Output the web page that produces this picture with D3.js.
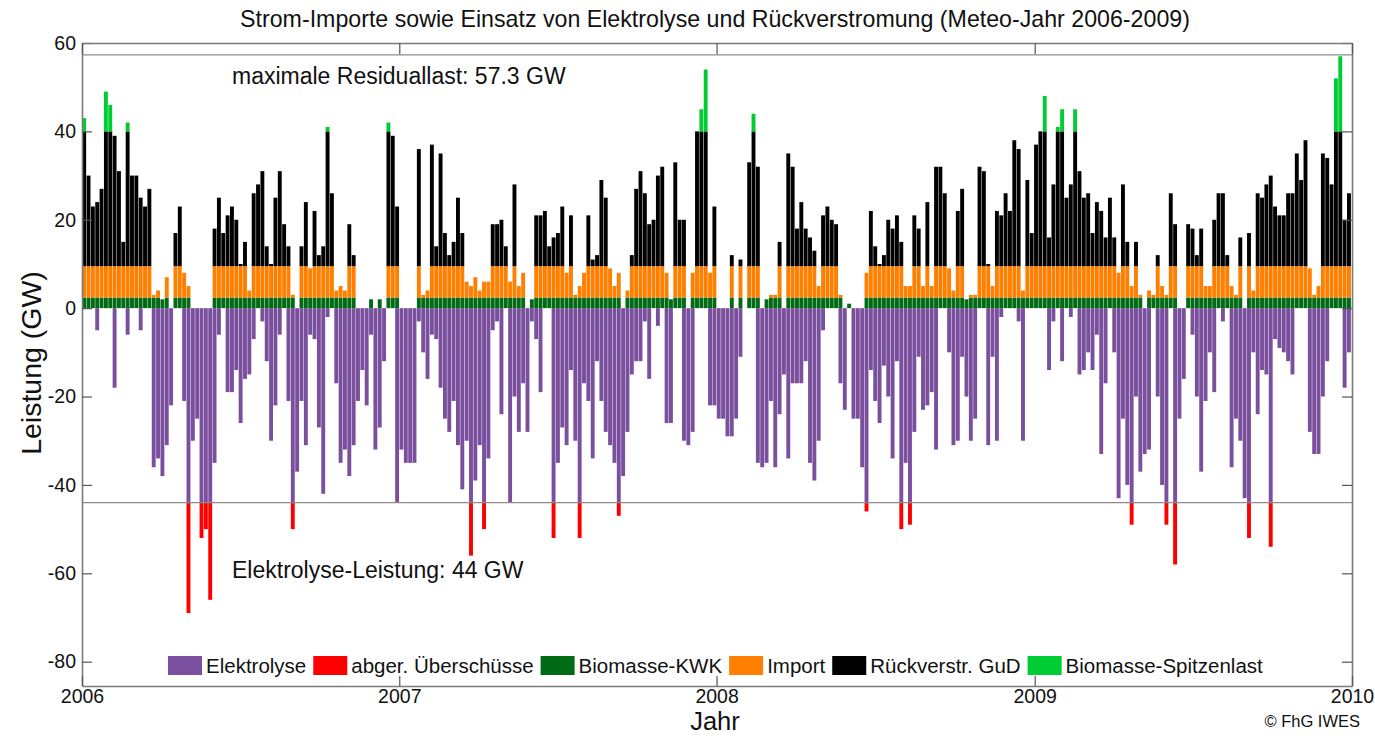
<!DOCTYPE html>
<html>
<head>
<meta charset="utf-8">
<script src="https://cdn.jsdelivr.net/npm/d3@7"></script>
<style>
  body { margin: 0; background: #fff; }
  svg text { font-family: "Liberation Sans", Arial, Helvetica, sans-serif; fill: #111; }
</style>
</head>
<body>
<svg id="chart" width="1375" height="736"></svg>
<script>
// ---- data (peak value per 5-day step, GW) ----
const startDate = new Date(2006, 0, 1);
const stepDays = 5;

// positive residual load (covered by KWK, import, GuD, Spitzenlast)
const residualPeak = [
  43, 30, 23, 24, 27, 49, 46, 39, 31, 15, 42, 30, 30, 25, 23, 27, 3, 4, 2, 7,
  0, 17, 23, 8, 5, 0, 0, 0, 0, 0, 18, 25, 17, 21, 23, 20, 10, 15, 4, 26,
  28, 31, 14, 10, 25, 31, 19, 14, 3, 0, 14, 24, 9, 22, 12, 14, 41, 26, 4, 5,
  4, 19, 12, 0, 0, 0, 2, 0, 2, 0, 42, 39, 23, 0, 0, 0, 0, 36, 3, 4,
  37, 14, 35, 17, 12, 15, 25, 17, 6, 5, 7, 4, 6, 6, 19, 19, 20, 14, 6, 28,
  5, 8, 0, 2, 21, 21, 22, 14, 16, 17, 23, 8, 21, 3, 5, 8, 21, 11, 12, 29,
  25, 9, 5, 8, 0, 4, 12, 27, 31, 26, 19, 20, 30, 32, 8, 2, 33, 20, 20, 0,
  8, 40, 45, 54, 8, 23, 0, 0, 0, 12, 0, 11, 0, 33, 44, 32, 0, 2, 3, 3,
  15, 0, 35, 32, 18, 24, 18, 16, 13, 5, 21, 23, 20, 19, 3, 0, 1, 0, 0, 0,
  8, 22, 14, 10, 12, 20, 18, 21, 15, 5, 5, 21, 18, 5, 24, 5, 32, 32, 26, 9,
  4, 22, 27, 2, 3, 3, 32, 31, 10, 5, 22, 21, 26, 22, 38, 36, 4, 29, 17, 37,
  40, 48, 16, 28, 41, 45, 25, 28, 45, 31, 25, 26, 17, 24, 22, 16, 25, 16, 8, 28,
  15, 5, 15, 3, 0, 4, 3, 12, 5, 3, 26, 19, 0, 0, 19, 18, 12, 18, 5, 5,
  20, 26, 26, 12, 5, 3, 16, 0, 17, 4, 26, 25, 28, 30, 23, 21, 21, 26, 26, 35,
  29, 38, 9, 3, 5, 35, 34, 28, 52, 57, 20, 26
];

// surplus (negative, taken by Elektrolyse down to its capacity, rest curtailed)
const surplusPeak = [
  0, 0, 0, -5, 0, 0, 0, -18, 0, 0, -6, 0, 0, -5, 0, 0, -36, -34, -38, -31,
  -22, 0, 0, -21, -69, -30, -25, -52, -50, -66, -35, -6, 0, -19, -19, -14, -26, -16, -15, -7,
  0, -3, -12, -30, -22, -6, 0, -21, -50, -37, -21, -31, -6, -7, -27, -42, -2, 0, -17, -35,
  -32, -38, -31, -21, -14, -22, -6, -32, -27, -12, 0, 0, -44, -32, -35, -35, -35, -3, -10, -16,
  -6, -7, -18, -25, -28, -21, -31, -41, -30, -56, -39, -31, -50, -34, -5, -3, -24, 0, -44, -20,
  -28, -17, -28, -3, -7, -19, 0, 0, -52, -35, -27, -31, -14, -30, -52, -17, -21, -34, -12, -21,
  -28, -31, -35, -47, -38, -28, -15, -12, -12, -3, -16, 0, -4, 0, -26, -26, 0, 0, -30, -31,
  -28, 0, 0, 0, -22, -22, -25, -25, -29, -29, -25, -11, 0, 0, 0, -35, -36, -35, -21, -36,
  -24, -15, -34, -17, -17, -17, -12, -35, -39, -30, -5, 0, 0, 0, -17, -23, 0, -25, -25, -36,
  -46, -14, -21, -26, -13, -20, -34, -12, -50, -35, -49, -28, -11, -23, -22, -19, -32, 0, 0, -10,
  -31, -30, -11, -20, -30, -25, 0, 0, -31, -11, -30, -2, 0, 0, 0, -3, -30, 0, 0, 0,
  0, 0, -14, -3, 0, -12, 0, -2, 0, -15, -14, -10, -14, -6, -33, -17, 0, -10, -43, -25,
  -40, -49, -20, -37, -33, -32, 0, -20, -40, -49, 0, -58, -25, -16, 0, -6, -20, -37, -21, -10,
  -19, 0, -3, 0, -36, -25, -30, -43, -52, -10, -24, -14, -15, -54, -7, -9, -10, -12, -15, 0,
  0, 0, -28, -33, -33, -20, -12, 0, 0, 0, -18, -10
];

// capacities (GW)
const kwkCap = 2.4;
const importTop = 9.5;
const gudTop = 40;
const elyCap = -44;
const maxResidual = 57.3;

const yTicks = [60, 40, 20, 0, -20, -40, -60, -80];
const xYears = [2006, 2007, 2008, 2009, 2010];

const layers = [
  { name: "Elektrolyse", color: "#7a4f9e", lo: 0, hi: elyCap, src: surplusPeak },
  { name: "abger. Überschüsse", color: "#ff0000", lo: elyCap, hi: -Infinity, src: surplusPeak },
  { name: "Biomasse-KWK", color: "#006a14", lo: 0, hi: kwkCap, src: residualPeak },
  { name: "Import", color: "#ff7f00", lo: kwkCap, hi: importTop, src: residualPeak },
  { name: "Rückverstr. GuD", color: "#000000", lo: importTop, hi: gudTop, src: residualPeak },
  { name: "Biomasse-Spitzenlast", color: "#00cc33", lo: gudTop, hi: Infinity, src: residualPeak }
];

// ---- layout ----
const plot = { left: 82, right: 1352, top: 43, bottom: 686 };
const axisColor = "#7a7a7a";

const svg = d3.select("#chart");

const x = d3.scaleTime()
  .domain([new Date(2006, 0, 1), new Date(2010, 0, 1)])
  .range([plot.left, plot.right]);

const y = d3.scaleLinear()
  .domain([-85.5, 60])
  .range([plot.bottom, plot.top]);

const stepDate = (i) => d3.timeDay.offset(startDate, i * stepDays);
const barW = 3.9;

function segment(v, lo, hi) {
  if (hi > lo) {
    if (v <= lo) return null;
    return [lo, Math.min(v, hi)];
  }
  if (v >= lo) return null;
  return [lo, Math.max(v, hi)];
}

const gBars = svg.append("g");
layers.forEach((layer) => {
  const segs = layer.src
    .map((v, i) => ({ i: i, s: segment(v, layer.lo, layer.hi) }))
    .filter((d) => d.s !== null);
  gBars.append("g")
    .attr("fill", layer.color)
    .selectAll("rect")
    .data(segs)
    .join("rect")
    .attr("x", (d) => {
      const x0 = x(stepDate(d.i));
      const x1 = x(stepDate(d.i + 1));
      return (x0 + x1) / 2 - barW / 2;
    })
    .attr("width", barW)
    .attr("y", (d) => y(Math.max(d.s[0], d.s[1])))
    .attr("height", (d) => Math.abs(y(d.s[0]) - y(d.s[1])));
});

// reference lines
[maxResidual, elyCap].forEach((v) => {
  svg.append("line")
    .attr("x1", plot.left).attr("x2", plot.right)
    .attr("y1", y(v)).attr("y2", y(v))
    .attr("stroke", "#8c8c8c").attr("stroke-width", 1.2);
});

// axes
const yearDates = xYears.map((yr) => new Date(yr, 0, 1));

function styleAxis(g) {
  g.select(".domain").attr("stroke", axisColor).attr("stroke-width", 1.6);
  g.selectAll(".tick line").attr("stroke", "#555").attr("stroke-width", 1.2);
  g.selectAll(".tick text")
    .attr("fill", "#111")
    .style("font-size", "19.5px")
    .style("font-family", '"Liberation Sans", Arial, sans-serif');
}

svg.append("g")
  .attr("transform", `translate(${plot.left},0)`)
  .call(d3.axisLeft(y).tickValues(yTicks).tickSize(-10).tickSizeOuter(0).tickPadding(6)
    .tickFormat((d) => String(d)))
  .call(styleAxis);

svg.append("g")
  .attr("transform", `translate(${plot.right},0)`)
  .call(d3.axisRight(y).tickValues(yTicks).tickSize(-10).tickSizeOuter(0).tickFormat(""))
  .call(styleAxis);

svg.append("g")
  .attr("transform", `translate(0,${plot.bottom})`)
  .call(d3.axisBottom(x).tickValues(yearDates).tickSize(-10).tickSizeOuter(0).tickPadding(3)
    .tickFormat(d3.timeFormat("%Y")))
  .call(styleAxis);

svg.append("g")
  .attr("transform", `translate(0,${plot.top})`)
  .call(d3.axisTop(x).tickValues(yearDates).tickSize(-11).tickSizeOuter(0).tickFormat(""))
  .call(styleAxis);

// texts
svg.append("text")
  .attr("x", 715).attr("y", 27)
  .attr("text-anchor", "middle")
  .style("font-size", "23.2px")
  .text("Strom-Importe sowie Einsatz von Elektrolyse und Rückverstromung (Meteo-Jahr 2006-2009)");

svg.append("text")
  .attr("x", 232).attr("y", 84)
  .style("font-size", "23px")
  .text(`maximale Residuallast: ${maxResidual} GW`);

svg.append("text")
  .attr("x", 232).attr("y", 578)
  .style("font-size", "23px")
  .text(`Elektrolyse-Leistung: ${-elyCap} GW`);

svg.append("text")
  .attr("transform", "translate(41,363) rotate(-90)")
  .attr("text-anchor", "middle")
  .style("font-size", "28.5px")
  .text("Leistung (GW)");

svg.append("text")
  .attr("x", 715).attr("y", 730)
  .attr("text-anchor", "middle")
  .style("font-size", "25.5px")
  .text("Jahr");

svg.append("text")
  .attr("x", 1360).attr("y", 727)
  .attr("text-anchor", "end")
  .style("font-size", "16.5px")
  .attr("fill", "#333")
  .text("© FhG IWES");

// legend
const legend = svg.append("g").attr("transform", "translate(168,0)");
let lx = 0;
layers.forEach((layer) => {
  legend.append("rect")
    .attr("x", lx).attr("y", 656)
    .attr("width", 34).attr("height", 19)
    .attr("fill", layer.color);
  const t = legend.append("text")
    .attr("x", lx + 38).attr("y", 673)
    .style("font-size", "20.5px")
    .text(layer.name);
  lx += 38 + t.node().getComputedTextLength() + 7;
});
</script>
</body>
</html>
